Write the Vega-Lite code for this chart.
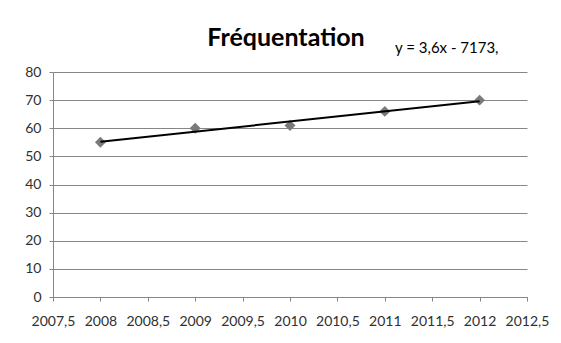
{
  "$schema": "https://vega.github.io/schema/vega-lite/v6.json",
  "width": 474,
  "height": 225,
  "autosize": "none",
  "padding": {"left": 53, "top": 72, "right": 34, "bottom": 46},
  "background": "white",
  "title": {
    "text": "Fréquentation",
    "font": "Lato",
    "fontSize": 25,
    "fontWeight": "bold",
    "color": "#000000",
    "anchor": "middle",
    "dx": -4,
    "offset": -10
  },
  "data": {
    "values": [
      {"annee": 2008, "freq": 55},
      {"annee": 2009, "freq": 60},
      {"annee": 2010, "freq": 61},
      {"annee": 2011, "freq": 66},
      {"annee": 2012, "freq": 70}
    ]
  },
  "config": {
    "view": {"stroke": null},
    "axis": {
      "labelFont": "Lato",
      "labelFontSize": 14,
      "labelColor": "#303030",
      "domainColor": "#868686",
      "tickColor": "#868686",
      "gridColor": "#868686",
      "tickSize": 4
    }
  },
  "encoding": {
    "x": {
      "field": "annee",
      "type": "quantitative",
      "scale": {"domain": [2007.5, 2012.5], "zero": false, "nice": false},
      "axis": {
        "title": null,
        "values": [2007.5, 2008, 2008.5, 2009, 2009.5, 2010, 2010.5, 2011, 2011.5, 2012, 2012.5],
        "labelExpr": "replace(format(datum.value, '.1~f'), '.', ',')",
        "grid": false,
        "labelPadding": 13,
        "labelFlush": false,
        "labelOverlap": false
      }
    },
    "y": {
      "field": "freq",
      "type": "quantitative",
      "scale": {"domain": [0, 80], "nice": false},
      "axis": {
        "title": null,
        "values": [0, 10, 20, 30, 40, 50, 60, 70, 80],
        "grid": true,
        "labelPadding": 8,
        "labelFlush": false,
        "labelOverlap": false
      }
    }
  },
  "layer": [
    {
      "mark": {"type": "point", "shape": "diamond", "filled": true, "color": "#7a7a7a", "size": 120, "opacity": 1}
    },
    {
      "transform": [{"regression": "freq", "on": "annee"}],
      "mark": {"type": "line", "color": "#000000", "strokeWidth": 2}
    },
    {
      "data": {"values": [{"annee": 2011.108, "freq": 86.6, "label": "y = 3,6x - 7173,"}]},
      "mark": {"type": "text", "align": "left", "baseline": "alphabetic", "font": "Lato", "fontSize": 15, "color": "#000000", "clip": false},
      "encoding": {
        "text": {"field": "label"}
      }
    }
  ]
}
